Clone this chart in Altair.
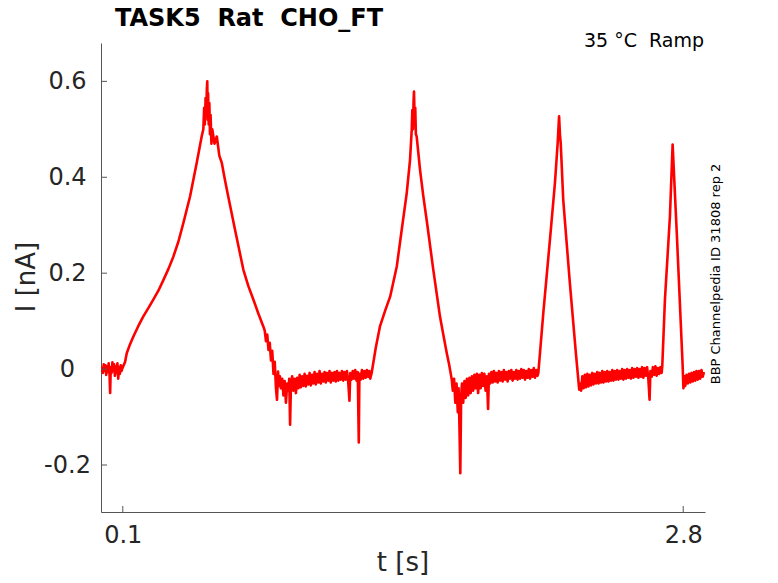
import altair as alt
import pandas as pd

# ---- data (t in s, I in nA) ----
base0_t = [0.000, 0.004, 0.008, 0.012, 0.016, 0.020, 0.024, 0.028, 0.032, 0.036, 0.039, 0.042,
           0.046, 0.050, 0.054, 0.058, 0.062, 0.066, 0.070, 0.074, 0.078, 0.082, 0.086, 0.090,
           0.094, 0.098]
base0_i = [0.005, -0.008, 0.010, -0.004, 0.008, -0.012, 0.006, -0.006, 0.012, -0.010, -0.050, 0.004,
           -0.008, 0.014, -0.004, 0.010, -0.014, 0.006, -0.008, 0.012, -0.020, 0.004, -0.010, 0.008,
           -0.004, 0.002]

peak1_t = [0.111, 0.119, 0.135, 0.151, 0.175, 0.199, 0.223, 0.247, 0.272, 0.296, 0.320, 0.344,
           0.368, 0.392, 0.424, 0.456, 0.480, 0.488, 0.492, 0.495, 0.499, 0.502, 0.505, 0.507,
           0.509, 0.511, 0.514, 0.517, 0.520, 0.523, 0.527, 0.531, 0.542, 0.553, 0.565, 0.577,
           0.592, 0.608, 0.641, 0.681, 0.705, 0.729, 0.753, 0.777, 0.784, 0.790, 0.796, 0.802,
           0.808, 0.814, 0.820, 0.826, 0.832, 0.838, 0.843, 0.848, 0.853, 0.857]
peak1_i = [0.015, 0.033, 0.052, 0.068, 0.090, 0.110, 0.127, 0.145, 0.164, 0.186, 0.209, 0.235,
           0.266, 0.305, 0.360, 0.430, 0.485, 0.500, 0.545, 0.510, 0.565, 0.530, 0.585, 0.600,
           0.520, 0.575, 0.510, 0.555, 0.490, 0.530, 0.470, 0.500, 0.470, 0.485, 0.445, 0.430,
           0.395, 0.360, 0.290, 0.207, 0.173, 0.145, 0.116, 0.089, 0.080, 0.058, 0.072, 0.040,
           0.055, 0.018, 0.038, -0.010, 0.015, -0.040, -0.064, -0.005, -0.035, -0.015]

base1_t = [0.862, 0.868, 0.874, 0.880, 0.886, 0.892, 0.898, 0.902, 0.906, 0.910, 0.916, 0.922,
           0.928, 0.934, 0.940, 0.946, 0.952, 0.958, 0.964, 0.970, 0.976, 0.982, 0.988, 0.994,
           1.000, 1.006, 1.012, 1.018, 1.024, 1.030, 1.036, 1.042, 1.048, 1.054, 1.060, 1.066,
           1.072, 1.078, 1.084, 1.090, 1.096, 1.102, 1.108, 1.114, 1.120, 1.126, 1.132, 1.138,
           1.144, 1.150, 1.156, 1.162, 1.168, 1.174, 1.180, 1.186, 1.192, 1.196, 1.202, 1.208,
           1.214, 1.220, 1.226, 1.232, 1.237, 1.240, 1.246, 1.252, 1.258, 1.264, 1.270, 1.276,
           1.282, 1.288, 1.292]
base1_i = [-0.040, -0.020, -0.055, -0.025, -0.070, -0.030, -0.045, -0.020, -0.116, -0.035, -0.015, -0.045,
           -0.020, -0.050, -0.018, -0.040, -0.012, -0.038, -0.015, -0.035, -0.010, -0.036, -0.014, -0.032,
           -0.008, -0.034, -0.012, -0.030, -0.006, -0.032, -0.010, -0.028, -0.004, -0.030, -0.010, -0.026,
           -0.006, -0.028, -0.008, -0.024, -0.004, -0.028, -0.008, -0.024, -0.006, -0.026, -0.004, -0.024,
           -0.008, -0.022, -0.004, -0.024, -0.006, -0.022, -0.004, -0.026, -0.066, -0.008, -0.022, -0.004,
           -0.020, -0.002, -0.024, -0.006, -0.153, -0.010, -0.022, -0.002, -0.020, -0.004, -0.018, -0.002,
           -0.016, -0.004, -0.020]

peak2_t = [1.299, 1.319, 1.339, 1.364, 1.388, 1.420, 1.444, 1.468, 1.484, 1.492, 1.495, 1.498,
           1.501, 1.503, 1.506, 1.509, 1.512, 1.516, 1.532, 1.548, 1.564, 1.596, 1.628, 1.645,
           1.661, 1.672, 1.685]
peak2_i = [-0.008, 0.045, 0.089, 0.122, 0.151, 0.214, 0.291, 0.367, 0.437, 0.499, 0.540, 0.500,
           0.560, 0.579, 0.520, 0.545, 0.490, 0.485, 0.416, 0.360, 0.311, 0.207, 0.110, 0.070,
           0.033, 0.010, -0.022]

base2_t = [1.690, 1.696, 1.702, 1.708, 1.714, 1.718, 1.722, 1.726, 1.730, 1.734, 1.740, 1.746,
           1.752, 1.758, 1.764, 1.770, 1.776, 1.782, 1.788, 1.794, 1.800, 1.806, 1.812, 1.818,
           1.824, 1.830, 1.836, 1.842, 1.848, 1.854, 1.860, 1.864, 1.870, 1.876, 1.882, 1.888,
           1.894, 1.900, 1.906, 1.912, 1.918, 1.924, 1.930, 1.936, 1.942, 1.948, 1.954, 1.960,
           1.966, 1.972, 1.978, 1.984, 1.990, 1.996, 2.002, 2.008, 2.014, 2.020, 2.026, 2.032,
           2.038, 2.044, 2.050, 2.056, 2.062, 2.068, 2.074, 2.080, 2.086, 2.092, 2.098]
base2_i = [-0.045, -0.020, -0.070, -0.030, -0.090, -0.040, -0.120, -0.217, -0.060, -0.030, -0.070, -0.025,
           -0.060, -0.020, -0.055, -0.018, -0.050, -0.015, -0.045, -0.012, -0.040, -0.010, -0.050, -0.012,
           -0.040, -0.008, -0.035, -0.010, -0.045, -0.015, -0.083, -0.010, -0.030, -0.006, -0.028, -0.004,
           -0.026, -0.008, -0.028, -0.004, -0.024, -0.006, -0.026, -0.002, -0.022, -0.006, -0.026, -0.004,
           -0.020, -0.002, -0.024, -0.006, -0.020, -0.002, -0.022, -0.004, -0.020, 0.000, -0.018, -0.002,
           -0.022, -0.004, -0.018, 0.000, -0.020, -0.002, -0.016, 0.002, -0.018, -0.002, -0.014]

peak3_t = [2.102, 2.126, 2.158, 2.182, 2.195, 2.202, 2.206, 2.210, 2.222, 2.254, 2.283, 2.299]
peak3_i = [-0.008, 0.117, 0.270, 0.388, 0.470, 0.527, 0.490, 0.470, 0.353, 0.179, 0.033, -0.043]

base3_t = [2.302, 2.308, 2.314, 2.320, 2.326, 2.332, 2.338, 2.344, 2.350, 2.356, 2.362, 2.368,
           2.374, 2.380, 2.386, 2.392, 2.398, 2.404, 2.410, 2.416, 2.422, 2.428, 2.434, 2.440,
           2.446, 2.452, 2.458, 2.464, 2.470, 2.476, 2.482, 2.488, 2.494, 2.500, 2.506, 2.512,
           2.518, 2.524, 2.530, 2.536, 2.542, 2.548, 2.554, 2.560, 2.566, 2.572, 2.578, 2.584,
           2.590, 2.596, 2.602, 2.608, 2.614, 2.620, 2.626, 2.632, 2.638, 2.642, 2.648, 2.654,
           2.660, 2.666, 2.672, 2.678, 2.684, 2.690, 2.696]
base3_i = [-0.030, -0.045, -0.015, -0.040, -0.012, -0.038, -0.010, -0.036, -0.012, -0.034, -0.008, -0.032,
           -0.010, -0.030, -0.006, -0.030, -0.008, -0.028, -0.004, -0.028, -0.006, -0.026, -0.004, -0.026,
           -0.006, -0.024, -0.002, -0.024, -0.004, -0.022, -0.002, -0.022, -0.004, -0.020, 0.000, -0.022,
           -0.002, -0.020, 0.000, -0.018, -0.002, -0.020, 0.002, -0.018, 0.000, -0.016, 0.002, -0.018,
           0.000, -0.016, 0.004, -0.018, 0.002, -0.014, 0.004, -0.020, -0.064, -0.004, -0.016, 0.004,
           -0.012, 0.006, -0.014, 0.002, -0.010, 0.004, -0.008]

peak4_t = [2.699, 2.712, 2.736, 2.749, 2.769, 2.797, 2.801]
peak4_i = [0.005, 0.145, 0.318, 0.468, 0.284, 0.010, -0.040]

base4_t = [2.806, 2.810, 2.816, 2.822, 2.828, 2.834, 2.840, 2.846, 2.852, 2.858, 2.864, 2.870,
           2.876, 2.882, 2.888, 2.894, 2.900]
base4_i = [-0.015, -0.035, -0.012, -0.030, -0.010, -0.028, -0.008, -0.026, -0.006, -0.024, -0.004, -0.022,
           -0.004, -0.020, -0.002, -0.016, -0.006]

x_ticks = [0.1, 2.8]
y_ticks = [-0.2, 0, 0.2, 0.4, 0.6]

NB = "\u00a0"
title_text = f"TASK5{NB}{NB}Rat{NB}{NB}CHO_FT"
cond_text = f"35{NB}°C{NB}{NB}Ramp"
side_text = "BBP Channelpedia ID 31808 rep 2"

# ---- build table ----
t_all = base0_t + peak1_t + base1_t + peak2_t + base2_t + peak3_t + base3_t + peak4_t + base4_t
i_all = base0_i + peak1_i + base1_i + peak2_i + base2_i + peak3_i + base3_i + peak4_i + base4_i
df = pd.DataFrame({"t": t_all, "I": i_all, "k": list(range(len(t_all)))})

W, H = 604, 469
FONT = "DejaVu Sans"
INK = "#262626"
AX = "#555555"

xs = alt.Scale(domain=[-0.005, 2.905], nice=False, zero=False)
ys = alt.Scale(domain=[-0.298, 0.680], nice=False, zero=False)

trace = alt.Chart(df).mark_line(color="#ff0000", strokeWidth=2.6, clip=True,
                                strokeJoin="round").encode(
    x=alt.X("t:Q", scale=xs,
            axis=alt.Axis(values=x_ticks, title=None, grid=False, tickSize=0,
                          labelFontSize=24, labelColor=INK, labelFont=FONT, labelPadding=11,
                          labelExpr="toString(datum.value)",
                          domainColor=AX, domainWidth=1)),
    y=alt.Y("I:Q", scale=ys,
            axis=alt.Axis(values=y_ticks, title=None, grid=False, tickSize=0,
                          labelFontSize=24, labelColor=INK, labelFont=FONT, labelPadding=34,
                          labelAlign="center", labelBaseline="middle",
                          labelExpr="toString(datum.value)",
                          domainColor=AX, domainWidth=1)),
    order="k:Q",
)

xt = alt.Chart(pd.DataFrame({"v": x_ticks})).mark_rule(color=AX, strokeWidth=1).encode(
    x=alt.X("v:Q", scale=xs), y=alt.value(H), y2=alt.value(H - 6))
yt = alt.Chart(pd.DataFrame({"v": y_ticks})).mark_rule(color=AX, strokeWidth=1).encode(
    y=alt.Y("v:Q", scale=ys), x=alt.value(0), x2=alt.value(6))

def label(text, x, y, size, **kw):
    return alt.Chart(pd.DataFrame({"s": [text]})).mark_text(
        font=FONT, fontSize=size, color=kw.pop("color", "#000000"), **kw
    ).encode(text="s:N", x=alt.value(x), y=alt.value(y))

title = label(title_text, 14, -17, 24, fontWeight="bold", align="left", baseline="alphabetic")
cond = label(cond_text, 603, 4, 19, align="right", baseline="alphabetic")
side = label(side_text, 619, 231, 13, angle=270, align="center", baseline="alphabetic")
xlab = label("t [s]", 302, 528, 26, color=INK, align="center", baseline="alphabetic")
ylab = label("I [nA]", -66, 234, 26, color=INK, angle=270, align="center", baseline="alphabetic")

chart = alt.layer(trace, xt, yt, title, cond, side, xlab, ylab).properties(
    width=W, height=H,
    autosize=alt.AutoSizeParams(type="none"),
    padding={"left": 93, "top": 35, "right": 58, "bottom": 63},
).configure(background="white").configure_view(strokeWidth=0, stroke="transparent")

chart.save("out.html", embed_options={"renderer": "svg", "actions": False})
